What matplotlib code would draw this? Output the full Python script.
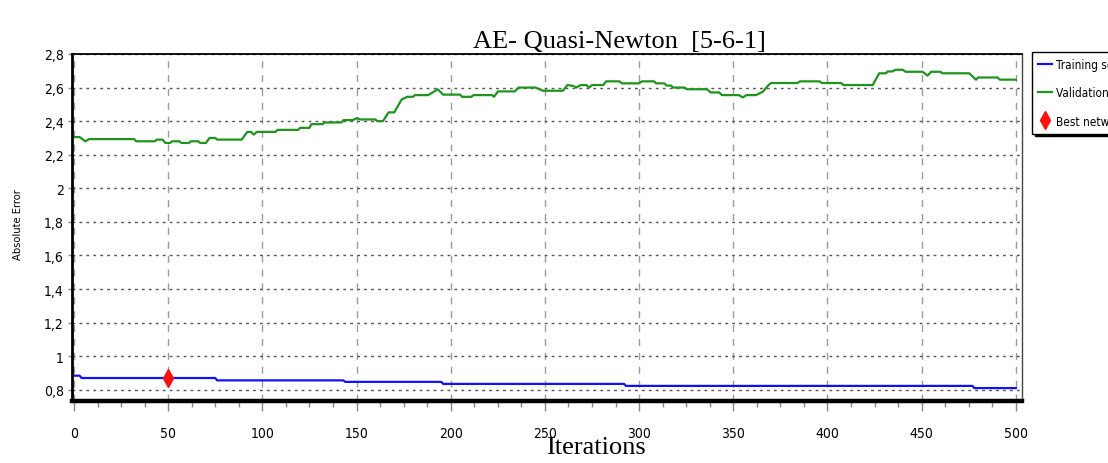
# -*- coding: utf-8 -*- #
import matplotlib
matplotlib.use("Agg")
from matplotlib import pyplot
from matplotlib.ticker import FuncFormatter, MultipleLocator

# training set error (iteration, absolute error)
train_x = [0, 3, 4, 75, 76, 143, 144, 195, 196, 292, 293, 477, 478, 500]
train_y = [0.884, 0.884, 0.87, 0.87, 0.856, 0.856, 0.847, 0.847, 0.835, 0.835,
           0.823, 0.823, 0.81, 0.81]

# validation set error
valid_x = [0, 3, 6, 8, 32, 33, 43, 44, 47, 48.5, 51, 52, 56, 57, 61, 62, 66, 67,
           70, 72, 75, 76, 89, 92, 94, 95.5, 97, 107, 108, 119, 120, 125, 126,
           132, 133, 142, 143, 148, 150, 152, 160, 161, 164, 167, 170, 174, 177,
           180, 181, 188, 191, 193, 196, 205, 206, 211, 212, 222, 223, 225, 234,
           236, 245, 249, 259.5, 262, 265, 266.7, 269, 272, 273.5, 275, 281,
           282.5, 289.5, 291, 300, 301.5, 308, 309, 313.5, 314.5, 317, 318, 324,
           325.5, 336, 338, 342.5, 344, 353, 355, 357, 362, 365.7, 368.3, 370,
           384, 385.5, 395.8, 397, 407.3, 408.5, 424, 427.5, 431, 432, 434.6,
           436, 440, 441.5, 450.5, 453.2, 455, 460, 461, 475.3, 478.9, 480,
           490.3, 491.5, 500]
valid_y = [2.305, 2.305, 2.28, 2.293, 2.293, 2.28, 2.28, 2.29, 2.29, 2.27, 2.27,
           2.28, 2.28, 2.27, 2.27, 2.28, 2.28, 2.27, 2.27, 2.30, 2.30, 2.29,
           2.29, 2.336, 2.336, 2.32, 2.336, 2.336, 2.348, 2.348, 2.36, 2.36,
           2.382, 2.382, 2.392, 2.392, 2.406, 2.406, 2.418, 2.41, 2.41, 2.40,
           2.40, 2.452, 2.452, 2.53, 2.545, 2.545, 2.555, 2.555, 2.575, 2.59,
           2.558, 2.558, 2.545, 2.545, 2.555, 2.555, 2.545, 2.577, 2.577, 2.60,
           2.60, 2.581, 2.581, 2.615, 2.61, 2.60, 2.615, 2.615, 2.60, 2.615,
           2.615, 2.637, 2.637, 2.625, 2.625, 2.637, 2.637, 2.625, 2.625, 2.612,
           2.612, 2.60, 2.60, 2.59, 2.59, 2.571, 2.571, 2.555, 2.555, 2.541,
           2.555, 2.555, 2.575, 2.61, 2.627, 2.627, 2.637, 2.637, 2.627, 2.627,
           2.615, 2.615, 2.685, 2.685, 2.696, 2.696, 2.706, 2.706, 2.694, 2.694,
           2.671, 2.694, 2.694, 2.685, 2.685, 2.647, 2.66, 2.66, 2.647, 2.647]

best_x = [50]
best_y = [0.87]

labels = ["Training set", "Validation set", "Best network"]

narrow = ["Liberation Sans Narrow", "DejaVu Sans"]
serif = ["Liberation Serif", "DejaVu Serif"]


def comma(v, pos):
    s = "%g" % round(v, 2)
    return s.replace(".", ",")


def main():
    pyplot.rcParams["font.family"] = narrow
    pyplot.rcParams["font.stretch"] = "condensed"
    fig = pyplot.figure(figsize=[11.08, 4.64], dpi=100)
    ax = fig.add_axes([0.065, 0.1336, 0.8574, 0.7479])

    l1, = ax.plot(train_x, train_y, color="#1010ff", lw=1.6)
    l2, = ax.plot(valid_x, valid_y, color="#1e941e", lw=1.6)
    l3, = ax.plot(best_x, best_y, ls="none", marker="d", ms=9,
                  color="#ff1010", zorder=5)

    ax.set_xlim(-1.06, 503.3)
    ax.set_ylim(0.733, 2.8)
    ax.xaxis.set_major_locator(MultipleLocator(50))
    ax.xaxis.set_minor_locator(MultipleLocator(12.5))
    ax.yaxis.set_major_locator(MultipleLocator(0.2))
    ax.yaxis.set_major_formatter(FuncFormatter(comma))

    ax.set_axisbelow(True)
    ax.yaxis.grid(True, ls=(0, (2, 3)), color="#555555", lw=1)
    ax.xaxis.grid(True, ls=(0, (5, 5)), color="#9a9a9a", lw=1)

    ax.spines["bottom"].set_linewidth(3.2)
    ax.spines["left"].set_linewidth(2)
    ax.spines["top"].set_linewidth(1.3)
    ax.spines["right"].set_linewidth(1)
    ax.spines["right"].set_color("#444444")

    ax.tick_params(axis="x", which="major", length=7, width=1, color="#888888",
                   pad=11, labelsize=10)
    ax.tick_params(axis="x", which="minor", length=4, width=1, color="#888888")
    ax.tick_params(axis="y", length=3, width=1, color="#888888", pad=3,
                   labelsize=10)

    ax.set_title("AE- Quasi-Newton  [5-6-1]", family=serif, fontsize=19,
                 x=0.576, pad=5)
    ax.set_xlabel("Iterations", family=serif, fontsize=19, va="center")
    ax.xaxis.set_label_coords(0.552, -0.133)
    fig.text(0.016, 0.515, "Absolute Error", rotation=90, ha="center",
             va="center", fontsize=8, family=["DejaVu Sans"])

    fig.legend([l1, l2, l3], labels, loc="upper left",
               bbox_to_anchor=(1032 / 1108, 1 - 53 / 464), borderaxespad=0,
               fancybox=False, edgecolor="black", framealpha=1,
               shadow={"color": "black", "alpha": 1}, fontsize=8.5,
               handlelength=1.2, handletextpad=0.3, labelspacing=1.3,
               borderpad=0.5)

    fig.savefig("out.png", dpi=100)


if __name__ == '__main__':
    main()
